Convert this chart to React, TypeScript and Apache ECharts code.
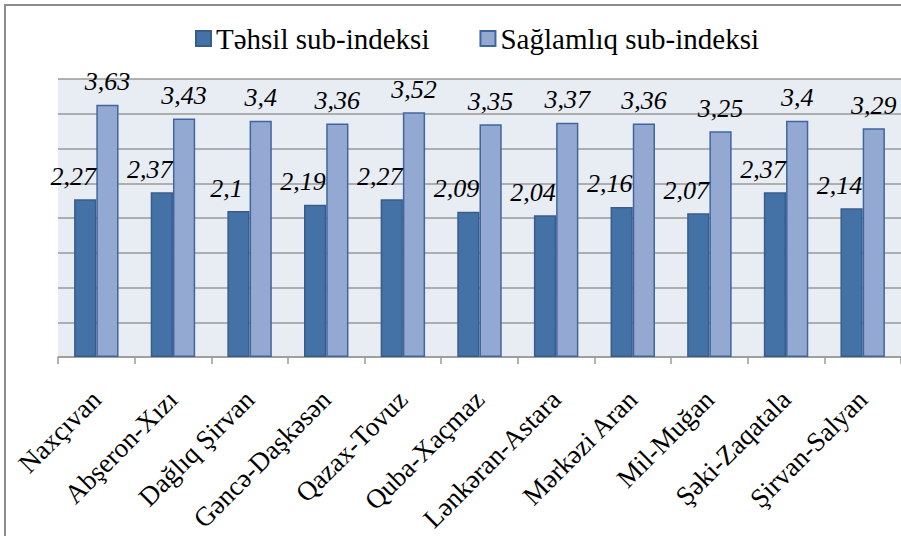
import React, { useEffect, useRef } from "react";
import * as echarts from "echarts";

const categories = [
  "Naxçıvan",
  "Abşeron-Xızı",
  "Dağlıq Şirvan",
  "Gəncə-Daşkəsən",
  "Qazax-Tovuz",
  "Quba-Xaçmaz",
  "Lənkəran-Astara",
  "Mərkəzi Aran",
  "Mil-Muğan",
  "Şəki-Zaqatala",
  "Şirvan-Salyan",
];
const tehsil = [2.27, 2.37, 2.1, 2.19, 2.27, 2.09, 2.04, 2.16, 2.07, 2.37, 2.14];
const saglamliq = [3.63, 3.43, 3.4, 3.36, 3.52, 3.35, 3.37, 3.36, 3.25, 3.4, 3.29];
const seriesNames = ["Təhsil sub-indeksi", "Sağlamlıq sub-indeksi"];

const fmt = (p: any) => String(p.value).replace(".", ",");
const SERIF = "Liberation Serif";

export default function App() {
  const ref = useRef<HTMLDivElement>(null);
  useEffect(() => {
    if (!ref.current) return;
    const chart = echarts.init(ref.current, undefined, { renderer: "svg" });
    chart.setOption({
      animation: false,
      backgroundColor: "#ffffff",
      textStyle: { fontFamily: SERIF },
      graphic: [
        {
          type: "rect",
          shape: { x: 5, y: 5, width: 1000, height: 700 },
          style: { fill: "none", stroke: "#8c8c8c", lineWidth: 2 },
          silent: true,
        },
      ],
      legend: {
        left: 190,
        top: 19,
        itemWidth: 15,
        itemHeight: 15,
        itemGap: 50,
        icon: "rect",
        textStyle: { fontFamily: SERIF, fontSize: 29, color: "#000" },
        data: seriesNames,
      },
      grid: {
        left: 58,
        top: 79,
        width: 845,
        height: 278,
        show: true,
        backgroundColor: "#e8ecf3",
        borderWidth: 0,
      },
      xAxis: {
        type: "category",
        data: categories,
        boundaryGap: true,
        axisLine: { show: true, lineStyle: { color: "#9a9a9a", width: 1.5 } },
        axisTick: { show: true, length: 7, lineStyle: { color: "#9a9a9a", width: 1.5 } },
        axisLabel: {
          rotate: 45,
          interval: 0,
          margin: 38,
          fontFamily: SERIF,
          fontSize: 27,
          color: "#000",
        },
      },
      yAxis: {
        type: "value",
        min: 0,
        max: 4,
        interval: 0.5,
        axisLabel: { show: false },
        axisLine: { show: false },
        axisTick: { show: false },
        splitLine: { show: true, lineStyle: { color: "#9a9a9a", width: 1.5 } },
      },
      series: [
        {
          name: seriesNames[0],
          type: "bar",
          data: tehsil,
          barWidth: "29%",
          barGap: "0%",
          itemStyle: { color: "#4471a6", borderColor: "#385d8a", borderWidth: 1.5 },
          label: {
            show: true,
            position: "top",
            distance: 10,
            offset: [-12, 0],
            formatter: fmt,
            fontFamily: SERIF,
            fontStyle: "italic",
            fontSize: 26,
            color: "#000",
          },
        },
        {
          name: seriesNames[1],
          type: "bar",
          data: saglamliq,
          barWidth: "29%",
          barGap: "0%",
          itemStyle: { color: "#94a9d1", borderColor: "#41669f", borderWidth: 1.5 },
          label: {
            show: true,
            position: "top",
            distance: 10,
            formatter: fmt,
            fontFamily: SERIF,
            fontStyle: "italic",
            fontSize: 26,
            color: "#000",
          },
        },
      ],
    });
    return () => chart.dispose();
  }, []);
  return (
    <div
      ref={ref}
      style={{ position: "fixed", left: 0, top: 0, width: 901, height: 536 }}
    />
  );
}
